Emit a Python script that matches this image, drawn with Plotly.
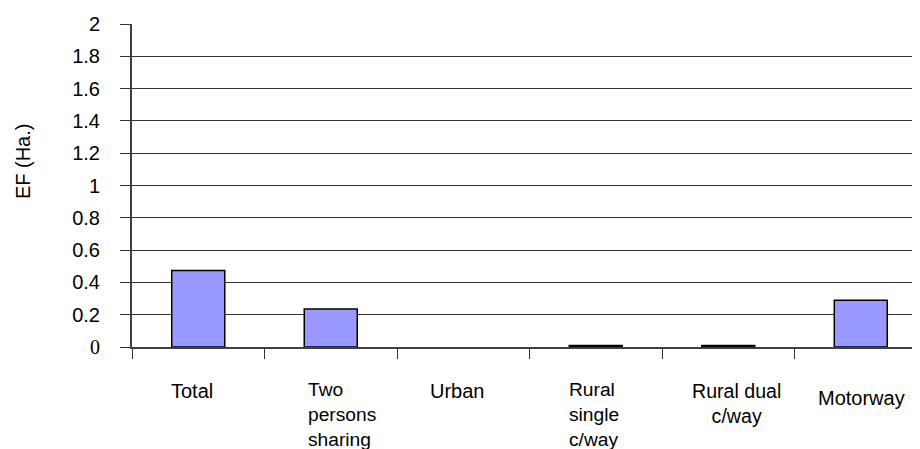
import plotly.graph_objects as go

categories = ["Total", "Two persons sharing", "Urban", "Rural single c/way", "Rural dual c/way", "Motorway"]
label_texts = ["Total", "Two<br>persons<br>sharing", "Urban", "Rural<br>single<br>c/way", "Rural dual<br>c/way", "Motorway"]
values = [0.473, 0.236, 0.0, 0.01, 0.01, 0.29]
tick_vals = [0, 0.2, 0.4, 0.6, 0.8, 1.0, 1.2, 1.4, 1.6, 1.8, 2.0]
tick_text = ['<span style="font-family:Liberation Serif">0</span>',
             "0.2", "0.4", "0.6", "0.8", "1", "1.2", "1.4", "1.6", "1.8", "2"]
y_title = "EF (Ha.)"

FONT = "Liberation Sans, Arial, sans-serif"
FS = 20

fig = go.Figure()
fig.add_trace(go.Bar(
    x=categories, y=values, width=0.4,
    marker=dict(color="#9999FF",
                line=dict(color="#000000", width=[1.5 if v else 0 for v in values])),
))

# per-label alignment/offset tweaks (style only)
label_align = ["center", "left", "center", "left", "center", "center"]
label_xshift = [-6, 11, -6, -2, 8, 1]
label_yshift = [-31, -30, -31, -30, -31, -38]
label_size = [20, 19.2, 20, 19.2, 19.6, 20]

annotations = []
for cat, txt, al, xs, ys, fs in zip(categories, label_texts, label_align, label_xshift, label_yshift, label_size):
    annotations.append(dict(
        x=cat, y=0, xref="x", yref="y", text=txt, showarrow=False,
        xanchor="center", yanchor="top", align=al, xshift=xs, yshift=ys,
        font=dict(family=FONT, size=fs, color="#000000"),
    ))
annotations.append(dict(
    x=-0.139, y=0.577, xref="paper", yref="paper", text=y_title, showarrow=False,
    textangle=-90, xanchor="center", yanchor="middle",
    font=dict(family=FONT, size=FS, color="#000000"),
))

fig.update_layout(
    width=912, height=441,
    margin=dict(l=124, r=0, t=16, b=102, pad=0, autoexpand=False),
    paper_bgcolor="white", plot_bgcolor="white",
    showlegend=False,
    font=dict(family=FONT, size=FS, color="#000000"),
    annotations=annotations,
    xaxis=dict(
        type="category", range=[-0.5, 5.447],
        tickson="boundaries", ticks="outside", ticklen=10, tickwidth=1, tickcolor="#333333",
        showticklabels=False, showgrid=False, zeroline=False,
        showline=True, linecolor="#404040", linewidth=2,
    ),
    yaxis=dict(
        range=[0, 2], tickmode="array", tickvals=tick_vals, ticktext=tick_text,
        ticks="outside", ticklen=10, tickwidth=1, tickcolor="#333333",
        ticklabelstandoff=16,
        showgrid=True, gridcolor="#333333", gridwidth=1, zeroline=False,
        showline=True, linecolor="#404040", linewidth=2,
        tickfont=dict(family=FONT, size=FS, color="#000000"),
    ),
)

fig.write_html("out.html")
